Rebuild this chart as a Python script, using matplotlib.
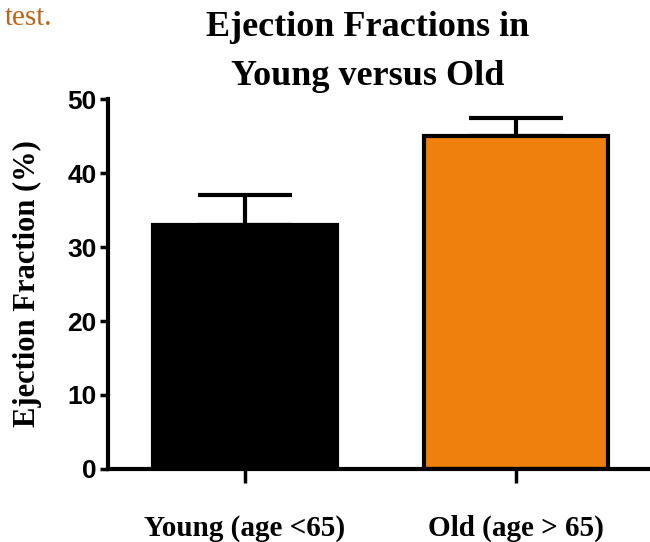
import matplotlib
matplotlib.use("Agg")
import matplotlib.pyplot as plt

groups = ["Young (age <65)", "Old (age > 65)"]
means = [33.0, 45.0]
errors = [4.0, 2.5]
colors = ["#000000", "#EF800E"]
yticks = [0, 10, 20, 30, 40, 50]

serif = ["Liberation Serif", "DejaVu Serif"]
sans = ["Liberation Sans", "DejaVu Sans"]

fig = plt.figure(figsize=(6.5, 5.42), dpi=100)
ax = fig.add_axes([0.166, 0.1347, 0.834, 0.6826])

x = list(range(len(groups)))
ax.bar(x, means, width=0.68, color=colors, edgecolor="black", linewidth=3, zorder=2)
ax.errorbar(x, means, yerr=[[0, 0], errors], fmt="none", ecolor="black",
            elinewidth=3, capsize=34, capthick=3, zorder=1)

ax.set_xlim(-0.5055, 1.494)
ax.set_ylim(0, 50)
ax.set_yticks(yticks)
ax.set_yticklabels([str(t) for t in yticks], family=sans, fontweight="bold", fontsize=19)
ax.set_xticks(x)
ax.set_xticklabels(groups, family=serif, fontweight="bold", fontsize=21)
ax.tick_params(axis="y", direction="out", length=6, width=2.5, pad=2)
ax.tick_params(axis="x", direction="out", length=10, width=2.5, pad=23)

for side in ["top", "right"]:
    ax.spines[side].set_visible(False)
for side in ["left", "bottom"]:
    ax.spines[side].set_linewidth(3)

ax.set_ylabel("Ejection Fraction (%)", family=serif, fontweight="bold", fontsize=22, labelpad=18)

fig.text(0.566, 0.98, "Ejection Fractions in\nYoung versus Old", family=serif,
         fontweight="bold", fontsize=26, ha="center", va="top", linespacing=1.65)
fig.text(0.008, 0.99, "test.", family=serif, color="#B8651C", fontsize=21, ha="left", va="top")

fig.savefig("out.png", dpi=100)
